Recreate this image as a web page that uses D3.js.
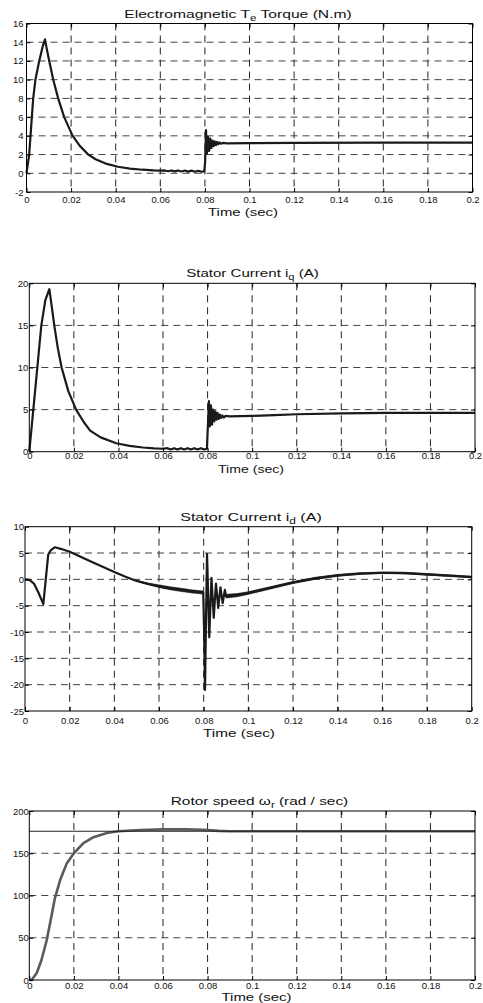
<!DOCTYPE html>
<html>
<head>
<meta charset="utf-8">
<script src="https://cdn.jsdelivr.net/npm/d3@7"></script>
<style>
  body { margin: 0; background: #fff; }
  svg text { font-family: "Liberation Sans", Arial, Helvetica, sans-serif; fill: #111; }
</style>
</head>
<body>
<svg id="chart" width="483" height="1003"></svg>
<script>
// ---- data ----
var timeTicks = [0, 0.02, 0.04, 0.06, 0.08, 0.1, 0.12, 0.14, 0.16, 0.18, 0.2];
var torqueTicks = [-2, 0, 2, 4, 6, 8, 10, 12, 14, 16];
var iqTicks = [0, 5, 10, 15, 20];
var idTicks = [-25, -20, -15, -10, -5, 0, 5, 10];
var speedTicks = [0, 50, 100, 150, 200];

// [time, Te]
var torque = [
  [0, 0], [0.0012, 2], [0.0024, 6], [0.003, 8], [0.004, 10], [0.0057, 12], [0.0072, 13.5],
  [0.0083, 14.3], [0.009, 13.4], [0.0102, 12], [0.012, 10], [0.0142, 8], [0.0169, 6],
  [0.0207, 4], [0.024, 2.9], [0.0277, 2], [0.031, 1.5], [0.036, 1], [0.041, 0.7],
  [0.0464, 0.5], [0.052, 0.38], [0.057, 0.3], [0.06, 0.28],
  [0.062, 0.3], [0.0635, 0.22], [0.065, 0.3], [0.0665, 0.2], [0.068, 0.3], [0.0695, 0.19],
  [0.071, 0.29], [0.0725, 0.18], [0.074, 0.28], [0.0755, 0.17], [0.077, 0.27], [0.0785, 0.16],
  [0.0797, 0.2],
  [0.0801, 1.2], [0.0805, 4.6], [0.0809, 2.1], [0.0814, 3.9], [0.0819, 2.4], [0.0824, 3.7],
  [0.0829, 2.7], [0.0834, 3.5], [0.0839, 2.9], [0.0844, 3.4], [0.0849, 3.0], [0.0854, 3.35],
  [0.0859, 3.1], [0.0865, 3.3], [0.0872, 3.15], [0.088, 3.25], [0.09, 3.2], [0.1, 3.22],
  [0.12, 3.25], [0.16, 3.27], [0.2, 3.28]
];

// [time, iq]
var iq = [
  [0, 0], [0.0018, 5], [0.0036, 10], [0.0054, 15], [0.0072, 18], [0.009, 19.3], [0.0101, 17.2],
  [0.0112, 15], [0.0128, 12.3], [0.0145, 10], [0.0175, 7.2], [0.021, 5], [0.0245, 3.5],
  [0.0273, 2.5], [0.032, 1.7], [0.039, 1.0], [0.045, 0.7], [0.051, 0.5], [0.056, 0.4], [0.06, 0.35],
  [0.062, 0.42], [0.0635, 0.26], [0.065, 0.42], [0.0665, 0.26], [0.068, 0.42], [0.0695, 0.26],
  [0.071, 0.42], [0.0725, 0.26], [0.074, 0.42], [0.0755, 0.26], [0.077, 0.42], [0.0785, 0.26],
  [0.0797, 0.35],
  [0.0802, 3.5], [0.0806, 6], [0.081, 3], [0.0815, 5.5], [0.082, 3.2], [0.0825, 5.0],
  [0.083, 3.6], [0.0835, 4.8], [0.084, 3.8], [0.0845, 4.6], [0.085, 3.9], [0.0855, 4.4],
  [0.086, 4.0], [0.0866, 4.3], [0.0873, 4.05], [0.088, 4.25], [0.09, 4.2], [0.1, 4.25],
  [0.11, 4.35], [0.12, 4.45], [0.14, 4.55], [0.16, 4.6], [0.2, 4.6]
];

// [time, id, ripple half-amplitude]
var id = [
  [0, 0, 0], [0.002, -0.1, 0], [0.004, -0.8, 0], [0.006, -2.5, 0], [0.0075, -4, 0],
  [0.0082, -4.7, 0], [0.0093, 0, 0], [0.0104, 4.7, 0], [0.0115, 5.5, 0], [0.0134, 6.1, 0],
  [0.016, 5.8, 0], [0.02, 5.25, 0], [0.03, 3.3, 0], [0.04, 1.4, 0], [0.045, 0.5, 0],
  [0.05, -0.3, 0.05], [0.055, -0.85, 0.15], [0.06, -1.3, 0.25], [0.065, -1.7, 0.28],
  [0.07, -2.0, 0.3], [0.075, -2.3, 0.3], [0.0798, -2.5, 0.3],
  [0.0802, -10, 0], [0.0806, -21, 0], [0.0811, -6, 0], [0.0815, 4.8, 0], [0.082, -3, 0],
  [0.0825, -11, 0], [0.083, -5, 0], [0.0835, 0.3, 0], [0.084, -3.5, 0], [0.0845, -7.3, 0],
  [0.085, -4, 0], [0.0855, -0.8, 0], [0.086, -3, 0], [0.0865, -5.4, 0], [0.087, -3.5, 0],
  [0.0875, -1.5, 0], [0.088, -3, 0], [0.0885, -4.5, 0], [0.089, -3.2, 0], [0.0895, -2.0, 0],
  [0.09, -3.2, 0.35], [0.095, -3.0, 0.3], [0.1, -2.6, 0.25], [0.11, -1.6, 0.22], [0.12, -0.6, 0.2],
  [0.13, 0.2, 0.2], [0.14, 0.75, 0.18], [0.15, 1.1, 0.15], [0.16, 1.25, 0.15], [0.17, 1.2, 0.15],
  [0.18, 0.95, 0.15], [0.19, 0.7, 0.15], [0.2, 0.45, 0.15]
];

// [time, wr]
var speed = [
  [0, 0], [0.001, 0], [0.0033, 8], [0.0055, 24], [0.0078, 47], [0.0093, 67], [0.0115, 97],
  [0.0138, 118], [0.0168, 138], [0.02, 150], [0.0243, 162], [0.0288, 169], [0.0348, 174],
  [0.04, 176], [0.05, 177.5], [0.06, 178.2], [0.07, 178.2], [0.078, 177.8], [0.085, 176.5],
  [0.09, 176], [0.1, 176], [0.2, 176]
];
var speedRef = [[0, 176], [0.2, 176]];

// ---- panels ----
var panels = [
  { title: [["Electromagnetic T"], ["e", 1], [" Torque (N.m)"]], yTicks: torqueTicks,
    left: 26.5, right: 472.5, top: 23.5, bottom: 192,
    titleX: 238, titleY: 14, titleW: 228, xPad: 4.6, yPad: 3,
    labelX: 243, labelY: 212, labelW: 70,
    series: [{ data: torque, color: "#1a1a1a", width: 2.2 }] },
  { title: [["Stator Current i"], ["q", 1], [" (A)"]], yTicks: iqTicks,
    left: 29.3, right: 475, top: 283.3, bottom: 451.7,
    titleX: 252.5, titleY: 273, titleW: 133, xPad: 0.5, yPad: 1,
    labelX: 251, labelY: 469, labelW: 66,
    series: [{ data: iq, color: "#1a1a1a", width: 2.2 }] },
  { title: [["Stator Current i"], ["d", 1], [" (A)"]], yTicks: idTicks,
    left: 25, right: 471.7, top: 526.7, bottom: 711,
    titleX: 251, titleY: 516.7, titleW: 142, xPad: 6.3, yPad: 1,
    labelX: 239, labelY: 733, labelW: 72,
    series: [{ data: id, color: "#1a1a1a", width: 2.2, ripple: true }] },
  { title: [["Rotor speed \u03c9"], ["r", 1], [" (rad / sec)"]], yTicks: speedTicks,
    left: 29.3, right: 475, top: 811, bottom: 980,
    titleX: 259.5, titleY: 800.7, titleW: 178, xPad: 1.8, yPad: 0.5,
    labelX: 256.5, labelY: 996.6, labelW: 70,
    series: [{ data: speed, color: "#5a5a5a", width: 2.6 },
             { data: speedRef, color: "#222", width: 1.1 }] }
];

var svg = d3.select("#chart");

// stretch a text group horizontally so it spans the measured width
function fitText(sel, cx, cy, w) {
  var bb = sel.node().getBBox();
  var s = w / bb.width;
  sel.attr("transform", "translate(" + cx + "," + cy + ") scale(" + s + ",1)");
}

function drawPanel(p) {
  var x = d3.scaleLinear().domain([0, 0.2]).range([p.left, p.right]);
  var y = d3.scaleLinear().domain(d3.extent(p.yTicks)).range([p.bottom, p.top]);
  var g = svg.append("g");

  // dashed grid
  g.selectAll(".vgrid").data(timeTicks.slice(1, -1)).enter().append("line")
      .attr("x1", d => x(d)).attr("x2", d => x(d))
      .attr("y1", p.top).attr("y2", p.bottom)
      .attr("stroke", "#222").attr("stroke-dasharray", "7,5");
  g.selectAll(".hgrid").data(p.yTicks.slice(1, -1)).enter().append("line")
      .attr("x1", p.left).attr("x2", p.right)
      .attr("y1", d => y(d)).attr("y2", d => y(d))
      .attr("stroke", "#444").attr("stroke-dasharray", "7,5");

  // curves
  p.series.forEach(function(s) {
    if (s.ripple) {
      var band = d3.area()
          .defined(d => d[2] > 0)
          .x(d => x(d[0]))
          .y0(d => y(d[1] - d[2]))
          .y1(d => y(d[1] + d[2]));
      g.append("path").datum(s.data)
          .attr("d", band)
          .attr("fill", s.color)
          .attr("stroke", s.color).attr("stroke-width", 0.6);
    }
    var line = d3.line().x(d => x(d[0])).y(d => y(d[1]));
    g.append("path").datum(s.data)
        .attr("d", line)
        .attr("fill", "none")
        .attr("stroke", s.color)
        .attr("stroke-width", s.width)
        .attr("stroke-linejoin", "round");
  });

  // axes with inward ticks
  var fmt = d => String(d);
  g.append("g").attr("transform", "translate(0," + p.bottom + ")")
      .call(d3.axisBottom(x).tickValues(timeTicks).tickFormat(fmt)
        .tickSizeInner(-4).tickSizeOuter(0).tickPadding(p.xPad));
  g.append("g").attr("transform", "translate(0," + p.top + ")")
      .call(d3.axisTop(x).tickValues(timeTicks).tickFormat("")
        .tickSizeInner(-4).tickSizeOuter(0));
  g.append("g").attr("transform", "translate(" + p.left + ",0)")
      .call(d3.axisLeft(y).tickValues(p.yTicks).tickFormat(fmt)
        .tickSizeInner(-4).tickSizeOuter(0).tickPadding(p.yPad));
  g.append("g").attr("transform", "translate(" + p.right + ",0)")
      .call(d3.axisRight(y).tickValues(p.yTicks).tickFormat("")
        .tickSizeInner(-4).tickSizeOuter(0));
  g.selectAll(".domain").remove();
  g.selectAll(".tick line").attr("stroke", "#000");
  g.selectAll(".tick text")
      .attr("font-family", "'Liberation Sans', Arial, sans-serif")
      .attr("font-size", 9.5).attr("fill", "#111");

  // box
  g.append("rect")
      .attr("x", p.left).attr("y", p.top)
      .attr("width", p.right - p.left).attr("height", p.bottom - p.top)
      .attr("fill", "none").attr("stroke", "#000").attr("stroke-width", 1);

  // title with subscript
  var tg = g.append("g");
  var t = tg.append("text").attr("text-anchor", "middle").attr("font-size", 11.5);
  p.title.forEach(function(part, i) {
    var ts = t.append("tspan").text(part[0]);
    if (part[1]) ts.attr("font-size", 8.5).attr("dy", 3);
    else if (i > 0) ts.attr("dy", -3);
  });
  fitText(tg, p.titleX, p.titleY + 4.1, p.titleW);

  // x label
  var lg = g.append("g");
  lg.append("text").attr("text-anchor", "middle").attr("font-size", 11).text("Time (sec)");
  fitText(lg, p.labelX, p.labelY + 3.9, p.labelW);
}

panels.forEach(drawPanel);
</script>
</body>
</html>
